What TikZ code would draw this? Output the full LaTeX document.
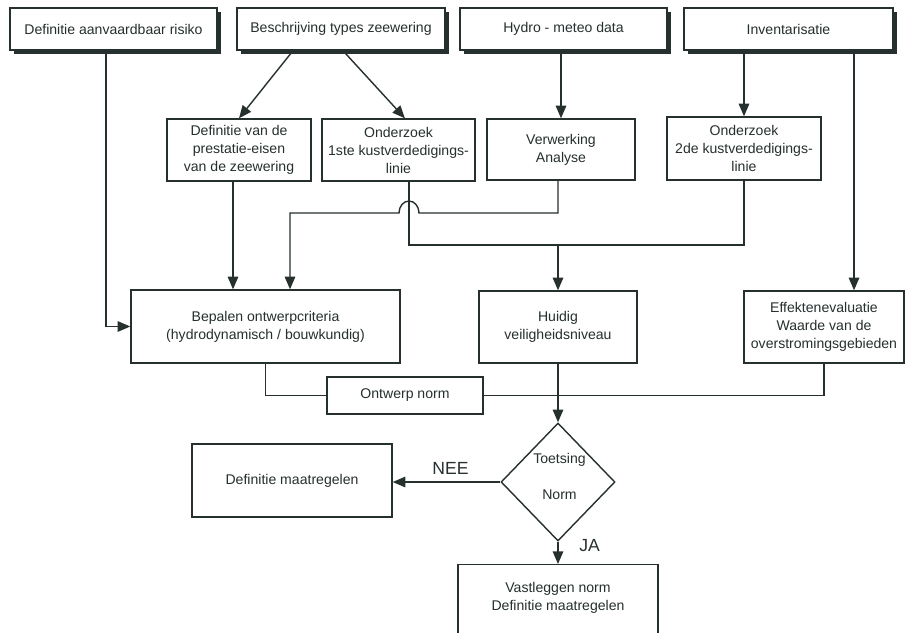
\documentclass[tikz,border=0pt]{standalone}
\usepackage{fontspec}
\setmainfont{Liberation Sans}
\usetikzlibrary{shapes.geometric,shadows,arrows.meta}
\definecolor{myinkcolor}{HTML}{26302E}
\tikzset{
  topbox/.style={draw=myinkcolor, fill=white, line width=1pt, rectangle, minimum width=5.2cm, minimum height=1.05cm, inner sep=0pt, text=myinkcolor, drop shadow={shadow xshift=0.11cm, shadow yshift=-0.09cm, fill=myinkcolor, opacity=1}, font=\fontsize{10pt}{12.8pt}\selectfont},
  stepbox/.style={draw=myinkcolor, fill=white, line width=1pt, rectangle, inner sep=0pt, align=center, text=myinkcolor, font=\fontsize{10pt}{12.8pt}\selectfont},
  decidebox/.style={draw=myinkcolor, fill=white, line width=1pt, diamond, inner sep=0pt, minimum width=2.85cm, minimum height=2.95cm},
  tekst/.style={text=myinkcolor, align=center, inner sep=0pt, font=\fontsize{10pt}{12.8pt}\selectfont},
  keuze/.style={text=myinkcolor, font=\fontsize{12.5pt}{14pt}\selectfont},
  lin/.style={draw=myinkcolor, line width=1pt},
  arr/.style={draw=myinkcolor, line width=1pt, -{Triangle[length=9pt,width=7.5pt]}},
}

\begin{document}
\begin{tikzpicture}[x=0.025cm, y=-0.025cm]%
\clip (0, 0) rectangle (910, 633);%
% bovenste rij
\node[topbox, minimum width=5.175cm] (risico) at (113.5, 29) {Definitie aanvaardbaar risiko};%
\node[topbox] (types) at (341, 29) {Beschrijving types zeewering};%
\node[topbox, minimum width=5.175cm] (hydro) at (563.5, 29) {Hydro - meteo data};%
\node[topbox, minimum width=5.225cm] (invent) at (788.5, 29) {Inventarisatie};%
% tweede rij
\node[stepbox, minimum width=3.6cm, minimum height=1.55cm] (eisen) at (239, 150) {Definitie van de\\prestatie-eisen\\van de zeewering};%
\node[stepbox, minimum width=3.825cm, minimum height=1.55cm] (linie1) at (398.5, 150) {Onderzoek\\1ste kustverdedigings-\\linie};%
\node[stepbox, minimum width=3.7cm, minimum height=1.525cm] (analyse) at (561, 149.5) {Verwerking\\Analyse};%
\node[stepbox, minimum width=3.85cm, minimum height=1.575cm] (linie2) at (744, 148.5) {Onderzoek\\2de kustverdedigings-\\linie};%
% derde rij
\node[stepbox, minimum width=6.725cm, minimum height=1.825cm] (criteria) at (265.5, 326.5) {Bepalen ontwerpcriteria\\(hydrodynamisch / bouwkundig)};%
\node[stepbox, minimum width=3.95cm, minimum height=1.8cm] (niveau) at (558, 327) {Huidig\\veiligheidsniveau};%
\node[stepbox, minimum width=4cm, minimum height=1.8cm] (effekt) at (824, 327) {Effektenevaluatie\\Waarde van de\\overstromingsgebieden};%
\node[stepbox, minimum width=3.9cm, minimum height=0.925cm] (norm) at (405, 395.5) {Ontwerp norm};%
% toetsing
\node[decidebox] (toets) at (558, 482) {};%
\node[tekst] (toetsa) at (559.5, 460) {Toetsing};%
\node[tekst] (toetsb) at (559.5, 495) {Norm};%
\node[stepbox, minimum width=5cm, minimum height=1.825cm] (maatr) at (292, 480.5) {Definitie maatregelen};%
\node[stepbox, anchor=north, minimum width=5cm, minimum height=2.5cm] (vast) at (558, 564) {};%
\node[tekst] (vasttekst) at (558, 597.5) {Vastleggen norm\\Definitie maatregelen};%
% verbindingen
\coordinate (sprong) at (419, 213);%
\coordinate (samen) at (558, 245);%
\draw[arr] ([xshift=-0.19cm]risico.south) |- (criteria.west);%
\draw[arr] ([xshift=-1.2cm]types.south) -- (eisen.north);%
\draw[arr] ([xshift=0.05cm]types.south) -- ([xshift=0.16cm]linie1.north);%
\draw[arr] (hydro.south -| analyse.north) -- (analyse.north);%
\draw[arr] (invent.south -| linie2.north) -- (linie2.north);%
\draw[arr] ([xshift=1.6375cm]invent.south) -- ([xshift=1.6375cm]invent.south |- effekt.north);%
\draw[arr] ([xshift=-0.15cm]eisen.south) -- ([xshift=-0.15cm]eisen.south |- criteria.north);%
\draw[arr] ([xshift=-0.075cm]analyse.south) |- (sprong) arc[start angle=0, end angle=180, x radius=0.25cm, y radius=0.3cm] -| ([xshift=0.6125cm]criteria.north);%
\draw[lin] ([xshift=0.26cm]linie1.south) |- (samen) -| (linie2.south);%
\draw[arr] (samen) -- (niveau.north);%
\draw[lin] (criteria.south) |- (norm.west);%
\draw[lin] (effekt.south) |- (norm.east);%
\draw[arr] (niveau.south) -- (toets.north);%
\draw[arr] (toets.west) -- (toets.west -| maatr.east) node[keuze, midway, above, yshift=0.05cm, xshift=0.1cm] {NEE};%
\draw[arr] (toets.south) -- (vast.north) node[keuze, pos=0.15, right, xshift=0.4cm] {JA};%
\end{tikzpicture}
\end{document}
